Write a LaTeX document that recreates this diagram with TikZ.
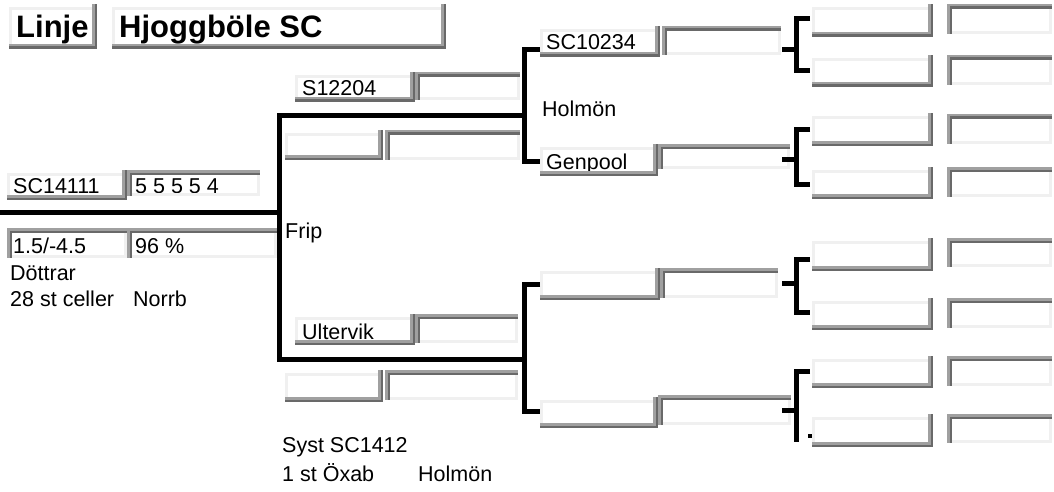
\documentclass[tikz,border=0pt]{standalone}
\usepackage{fontspec}
\setmainfont{Liberation Sans}
\usetikzlibrary{positioning}

\definecolor{lite}{HTML}{F0F0F0}
\definecolor{midgray}{HTML}{A0A0A0}
\definecolor{dkgray}{HTML}{696969}

\tikzset{
  box/.style={rectangle,inner sep=0pt,outer sep=0pt,anchor=north west},
  sz/.style 2 args={minimum width=#1pt,minimum height=#2pt},
  lbl/.style={anchor=base west,inner sep=0pt,font=\fontsize{21.5}{25}\selectfont},
  ttl/.style={anchor=base west,inner sep=0pt,font=\fontsize{31}{34}\selectfont\bfseries},
  wire/.style={line width=5pt,line join=miter}
}

% raised field: light top/left, dark right/bottom
\newcommand\upbevel[1]{%
  \fill[lite] ([yshift=-3pt]#1.north west) rectangle ([xshift=-5pt,yshift=-6pt]#1.north east);
  \fill[lite] ([yshift=-3pt]#1.north west) rectangle ([xshift=3pt,yshift=5pt]#1.south west);
  \fill[midgray] ([xshift=-5pt]#1.north east) rectangle (#1.south east);
  \fill[midgray] ([yshift=5pt]#1.south west) rectangle (#1.south east);
  \fill[dkgray] ([xshift=-2.5pt]#1.north east) rectangle (#1.south east);
  \fill[dkgray] ([yshift=2.5pt]#1.south west) rectangle (#1.south east);
}
% sunken field: dark top/left, light right/bottom
\newcommand\downbevel[1]{%
  \fill[lite] ([xshift=-3pt,yshift=-5pt]#1.north east) rectangle (#1.south east);
  \fill[lite] ([xshift=5pt,yshift=3pt]#1.south west) rectangle (#1.south east);
  \fill[midgray] (#1.north west) rectangle ([yshift=-5pt]#1.north east);
  \fill[midgray] (#1.north west) rectangle ([xshift=5pt]#1.south west);
  \fill[dkgray] ([xshift=2.5pt,yshift=-2.5pt]#1.north west) rectangle ([yshift=-5pt]#1.north east);
  \fill[dkgray] ([xshift=2.5pt,yshift=-2.5pt]#1.north west) rectangle ([xshift=5pt]#1.south west);
}

\begin{document}
\begin{tikzpicture}[x=1pt,y=-1pt]
\useasboundingbox (0,0) rectangle (1054,492);

% fields
\node[box,sz={88}{45}] (linje) at (9,4) {};
\node[box,sz={334}{45}] (title) at (112,4) {};

\node[box,sz={120}{30}] (sire) at (7,170) {};
\node[box,sz={133}{26}] (score) at (127,170) {};
\node[box,sz={120}{30}] (idx) at (7,228) {};
\node[box,sz={150}{30}] (pct) at (127,228) {};

\node[box,sz={120}{30}] (sA) at (295,72) {};
\node[box,sz={105}{28}] (sAx) at (415,72) {};
\node[box,sz={98}{30}] (sB) at (285,130) {};
\node[box,sz={135}{30}] (sBx) at (385,130) {};
\node[box,sz={120}{31}] (dA) at (295,314) {};
\node[box,sz={103}{29}] (dAx) at (415,314) {};
\node[box,sz={98}{32}] (dB) at (285,370) {};
\node[box,sz={133}{30}] (dBx) at (385,370) {};

\node[box,sz={120}{31}] (ssA) at (540,26) {};
\node[box,sz={119}{29}] (ssAx) at (662,26) {};
\node[box,sz={118}{32}] (ssB) at (540,144) {};
\node[box,sz={132}{25}] (ssBx) at (658,144) {};
\node[box,sz={120}{32}] (sdA) at (540,268) {};
\node[box,sz={118}{30}] (sdAx) at (660,268) {};
\node[box,sz={118}{31}] (sdB) at (540,397) {};
\node[box,sz={133}{30}] (sdBx) at (658,395) {};

\foreach \i/\y/\h in {1/4/33,2/55/32,3/113/33,4/167/32,5/238/33,6/298/32,7/356/32,8/414/33}
  \node[box,sz={121}{\h}] (g\i) at (812,\y) {};
\foreach \i/\y/\h in {1/4/30,2/55/30,3/114/30,4/167/30,5/238/29,6/298/30,7/356/30,8/414/29}
  \node[box,sz={105}{\h}] (gx\i) at (947,\y) {};

% texts
\node[ttl] (linjetxt) at (16,37.5) {Linje};
\node[ttl] (titletxt) at (119,37.5) {Hjoggböle SC};
\node[lbl] (siretxt) at (13,193) {SC14111};
\node[lbl] (scoretxt) at (135,193) {5 5 5 5 4};
\node[lbl] (idxtxt) at (13,253) {1.5/-4.5};
\node[lbl] (pcttxt) at (135,253) {96 \%};
\node[lbl] (dott) at (10,280) {Döttrar};
\node[lbl] (cells) at (10,306) {28 st celler};
\node[lbl] (area) at (133,306) {Norrb};
\node[lbl] (frip) at (285,238) {Frip};
\node[lbl] (sAtxt) at (302,96) {S12204};
\node[lbl] (dAtxt) at (302,339) {Ultervik};
\node[lbl] (ssAtxt) at (546,50) {SC10234};
\node[lbl] (holm) at (542,117) {Holmön};
\node[lbl] (ssBtxt) at (546,169) {Genpool};
\node[lbl] (syst) at (282,452) {Syst SC1412};
\node[lbl] (oxab) at (282,481) {1 st Öxab};
\node[lbl] (holm2) at (418,481) {Holmön};

% bevels
\foreach \b in {linje,title,sire,sA,sB,dA,dB,ssA,ssB,sdA,sdB,g1,g2,g3,g4,g5,g6,g7,g8} {\upbevel{\b}}
\foreach \b in {score,idx,pct,sAx,sBx,dAx,dBx,ssAx,ssBx,sdAx,sdBx,gx1,gx2,gx3,gx4,gx5,gx6,gx7,gx8} {\downbevel{\b}}

% brackets
\coordinate (root) at (0,212.5);
\coordinate (jf) at (279.5,212.5);
\coordinate (pU) at (524.5,115.5);
\coordinate (pL) at (524.5,359.5);
\coordinate (aT) at (540,49.5);
\coordinate (aB) at (540,161.5);
\coordinate (bT) at (540,284.5);
\coordinate (bB) at (540,411.5);
\draw[wire] (root) -- (jf);
\draw[wire] (pU) -| (jf) |- (pL);
\draw[wire] (aT) -| (pU) |- (aB);
\draw[wire] (bT) -| (pL) |- (bB);

\foreach \i/\s/\t/\u in {1/49.5/19/70.5,2/159.5/129.5/184.5,3/283.5/259.5/312.5} {
  \coordinate (s\i) at (782,\s);
  \coordinate (k\i) at (796.5,\s);
  \coordinate (t\i) at (810,\t);
  \coordinate (u\i) at (810,\u);
  \draw[wire] (s\i) -- (k\i);
  \draw[wire] (t\i) -| (k\i) |- (u\i);
}
\coordinate (s4) at (782,410.5);
\coordinate (k4) at (796.5,410.5);
\coordinate (t4) at (810,371.5);
\coordinate (e4) at (796.5,442);
\draw[wire] (s4) -- (k4);
\draw[wire] (t4) -| (e4);
\fill (808,434) rectangle (812,438);
\end{tikzpicture}
\end{document}
